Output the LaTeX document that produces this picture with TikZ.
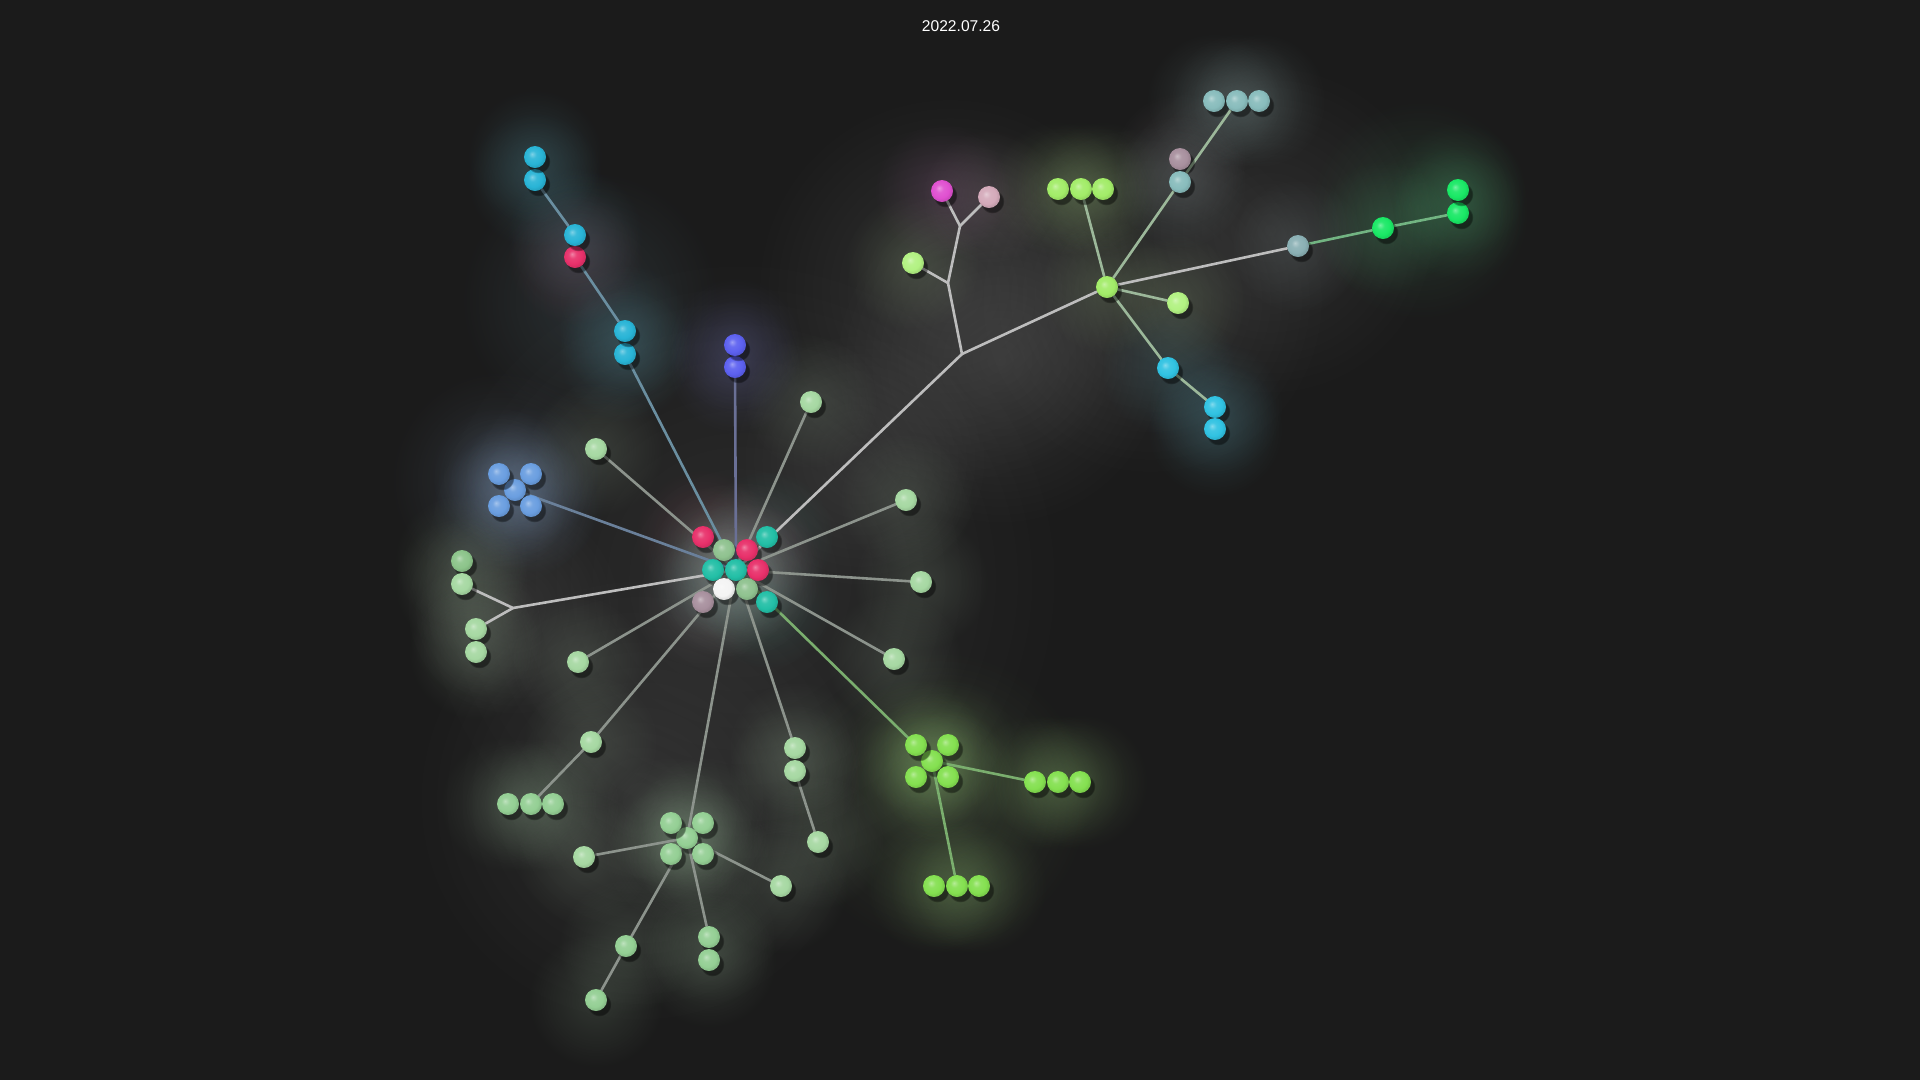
\documentclass[tikz,border=0pt]{standalone}
\usepackage{fontspec}
\setmainfont{Liberation Sans}
\usetikzlibrary{shadows,fadings}
\definecolor{bgc}{HTML}{1B1B1B}
\definecolor{cya}{HTML}{28B4D6}
\definecolor{cyb}{HTML}{30C2E2}
\definecolor{pnk}{HTML}{E8306A}
\definecolor{tea}{HTML}{22BFA6}
\definecolor{lgr}{HTML}{A6D8A2}
\definecolor{mgr}{HTML}{94CF94}
\definecolor{dgr}{HTML}{8CC48A}
\definecolor{cgr}{HTML}{8FC28F}
\definecolor{lim}{HTML}{84E050}
\definecolor{ygr}{HTML}{A2EC68}
\definecolor{ylg}{HTML}{B2F282}
\definecolor{brg}{HTML}{19E865}
\definecolor{bgy}{HTML}{8AB0B4}
\definecolor{tgy}{HTML}{88BCBC}
\definecolor{mau}{HTML}{A8909E}
\definecolor{pmv}{HTML}{D4AABA}
\definecolor{mag}{HTML}{E050D0}
\definecolor{blu}{HTML}{6A9EE0}
\definecolor{pbl}{HTML}{5C60F0}
\definecolor{wht}{HTML}{F4F4F4}
\definecolor{ecen}{HTML}{8C938C}
\definecolor{ebr}{HTML}{BDBDBD}
\definecolor{ecy}{HTML}{6A8EA0}
\definecolor{ebl}{HTML}{6A7096}
\definecolor{ebx}{HTML}{6A809A}
\definecolor{egx}{HTML}{7AAE6E}
\definecolor{egn}{HTML}{9CB89A}
\definecolor{ebg}{HTML}{72B482}
\colorlet{mybc}{white}
\pgfdeclareradialshading[mybc]{softball}{\pgfpoint{-7bp}{7bp}}{color(0bp)=(mybc!60!white); color(9bp)=(mybc!92!white); color(20bp)=(mybc); color(32bp)=(mybc!82!black); color(50bp)=(mybc!65!black)}
\tikzfading[name=glowfade, inner color=transparent!0, outer color=transparent!100]
\pgfdeclarelayer{bg}\pgfdeclarelayer{glow}\pgfdeclarelayer{edges}
\pgfsetlayers{bg,glow,edges,main}
\tikzset{
  sb/.style={circle, inner sep=0pt, minimum size=22pt, shading=softball,
    /utils/exec={\colorlet{mybc}{#1}},
    circular drop shadow={shadow xshift=3pt, shadow yshift=-4pt, opacity=0.45, fill=black}},
  lnk/.style={line width=2.6pt, draw=#1, line cap=round},
  lnk/.default=ecen,
  glw/.style={fill=#1, fill opacity=0.2, path fading=glowfade},
  haze/.style={fill=#1, fill opacity=0.18, path fading=glowfade}
}
\newcommand{\mkball}[4]{%
  \node[sb=#4] (#1) at (#2,#3) {};%
  \begin{pgfonlayer}{glow}\fill[glw=#4!45!gray] (#2,#3) circle (68);\end{pgfonlayer}}
\newcommand{\mkglow}[4]{%
  \begin{pgfonlayer}{glow}\fill[haze=#3] (#1,#2) circle (#4);\end{pgfonlayer}}
\begin{document}
\begin{tikzpicture}[x=1pt,y=-1pt]
\useasboundingbox (0,0) rectangle (1920,1080);
\begin{pgfonlayer}{bg}\fill[bgc] (0,0) rectangle (1920,1080);\end{pgfonlayer}
\node[text=white, font=\fontsize{15.6}{18}\selectfont] (title) at (961,26) {2022.07.26};
% extra haze
\mkglow{740}{580}{gray}{330}
\mkglow{640}{800}{gray}{230}
\mkglow{950}{290}{gray!80!white}{200}
\mkglow{1000}{360}{gray!80!white}{170}
\mkglow{1150}{300}{gray}{180}
\mkglow{1270}{230}{gray}{170}
\mkglow{860}{460}{gray}{130}
\mkglow{513}{608}{gray}{110}
\mkglow{590}{300}{ecy}{130}
\mkglow{500}{480}{blu!40!gray}{110}
\mkglow{940}{800}{lim!40!gray}{150}
\mkglow{1420}{210}{brg!40!gray}{110}
% center cluster
\mkball{c1}{703}{537}{pnk}
\mkball{c2}{724}{550}{cgr}
\mkball{c3}{747}{550}{pnk}
\mkball{c4}{767}{537}{tea}
\mkball{c5}{713}{570}{tea}
\mkball{hub}{736}{570}{tea}
\mkball{c7}{758}{570}{pnk}
\mkball{c8}{724}{589}{wht}
\mkball{c9}{747}{589}{cgr}
\mkball{c10}{703}{602}{mau}
\mkball{c11}{767}{602}{tea}
% cyan chain
\mkball{u1}{625}{354}{cya}
\mkball{u2}{625}{331}{cya}
\mkball{u3}{575}{257}{pnk}
\mkball{u4}{575}{235}{cya}
\mkball{u5}{535}{180}{cya}
\mkball{u6}{535}{157}{cya}
% blue pair
\mkball{v1}{735}{367}{pbl}
\mkball{v2}{735}{345}{pbl}
% blue X
\mkball{xc}{515}{490}{blu}
\mkball{x1}{499}{474}{blu}
\mkball{x2}{531}{474}{blu}
\mkball{x3}{499}{506}{blu}
\mkball{x4}{531}{506}{blu}
% left green
\coordinate (j0) at (513,608);
\mkball{l1}{462}{561}{dgr}
\mkball{l2}{462}{584}{lgr}
\mkball{l3}{476}{629}{lgr}
\mkball{l4}{476}{652}{lgr}
% singles
\mkball{s1}{596}{449}{lgr}
\mkball{s2}{578}{662}{lgr}
\mkball{s3}{591}{742}{lgr}
\mkball{t1}{508}{804}{mgr}
\mkball{t2}{531}{804}{mgr}
\mkball{t3}{553}{804}{mgr}
% bottom X
\mkball{bc}{687}{838}{mgr}
\mkball{b1}{671}{823}{mgr}
\mkball{b2}{703}{823}{mgr}
\mkball{b3}{671}{854}{mgr}
\mkball{b4}{703}{854}{mgr}
\mkball{bl}{584}{857}{lgr}
\mkball{br}{781}{886}{lgr}
\mkball{bd}{626}{946}{mgr}
\mkball{bd2}{596}{1000}{mgr}
\mkball{bp1}{709}{937}{mgr}
\mkball{bp2}{709}{960}{mgr}
\mkball{q1}{795}{748}{lgr}
\mkball{q2}{795}{771}{lgr}
\mkball{q3}{818}{842}{lgr}
% right singles
\mkball{r1}{811}{402}{lgr}
\mkball{r2}{906}{500}{lgr}
\mkball{r3}{921}{582}{lgr}
\mkball{r4}{894}{659}{lgr}
% green X
\mkball{gc}{932}{761}{lim}
\mkball{g1}{916}{745}{lim}
\mkball{g2}{948}{745}{lim}
\mkball{g3}{916}{777}{lim}
\mkball{g4}{948}{777}{lim}
\mkball{gt1}{1035}{782}{lim}
\mkball{gt2}{1058}{782}{lim}
\mkball{gt3}{1080}{782}{lim}
\mkball{gb1}{934}{886}{lim}
\mkball{gb2}{957}{886}{lim}
\mkball{gb3}{979}{886}{lim}
% upper branch
\coordinate (j1) at (962,354);
\coordinate (j2) at (948,283);
\coordinate (j3) at (960,226);
\mkball{m1}{942}{191}{mag}
\mkball{m2}{989}{197}{pmv}
\mkball{m3}{913}{263}{ylg}
\mkball{h}{1107}{287}{ygr}
\mkball{ht1}{1058}{189}{ygr}
\mkball{ht2}{1081}{189}{ygr}
\mkball{ht3}{1103}{189}{ygr}
\mkball{hs}{1178}{303}{ylg}
\mkball{hc}{1168}{368}{cyb}
\mkball{hp1}{1215}{407}{cyb}
\mkball{hp2}{1215}{429}{cyb}
\mkball{k0}{1180}{159}{mau}
\mkball{k1}{1180}{182}{tgy}
\mkball{kt1}{1214}{101}{tgy}
\mkball{kt2}{1237}{101}{tgy}
\mkball{kt3}{1259}{101}{tgy}
\mkball{w1}{1298}{246}{bgy}
\mkball{w2}{1383}{228}{brg}
\mkball{w3}{1458}{213}{brg}
\mkball{w4}{1458}{190}{brg}
\begin{pgfonlayer}{edges}
\draw[lnk=ecy] (hub) -- (u1);
\draw[lnk=ecy] (u2) -- (u3);
\draw[lnk=ecy] (u4) -- (u5);
\draw[lnk=ebl] (hub) -- (v1);
\draw[lnk=ebx] (hub) -- (xc);
\draw[lnk=ebr] (hub) -- (j0);
\draw[lnk=ebr] (j0) -- (l2);
\draw[lnk=ebr] (j0) -- (l3);
\draw[lnk] (hub) -- (s1);
\draw[lnk] (hub) -- (s2);
\draw[lnk] (hub) -- (s3);
\draw[lnk] (s3) -- (t2);
\draw[lnk] (hub) -- (bc);
\draw[lnk] (bc) -- (bl);
\draw[lnk] (bc) -- (br);
\draw[lnk] (bc) -- (bd);
\draw[lnk] (bd) -- (bd2);
\draw[lnk] (bc) -- (bp1);
\draw[lnk] (hub) -- (q1);
\draw[lnk] (q2) -- (q3);
\draw[lnk] (hub) -- (r1);
\draw[lnk] (hub) -- (r2);
\draw[lnk] (hub) -- (r3);
\draw[lnk] (hub) -- (r4);
\draw[lnk=egx] (hub) -- (gc);
\draw[lnk=egx] (gc) -- (gt1);
\draw[lnk=egx] (gc) -- (gb2);
\draw[lnk=ebr] (hub) -- (j1);
\draw[lnk=ebr] (j1) -- (j2);
\draw[lnk=ebr] (j2) -- (j3);
\draw[lnk=ebr] (j3) -- (m1);
\draw[lnk=ebr] (j3) -- (m2);
\draw[lnk=ebr] (j2) -- (m3);
\draw[lnk=ebr] (j1) -- (h);
\draw[lnk=egn] (h) -- (ht2);
\draw[lnk=egn] (h) -- (hs);
\draw[lnk=egn] (h) -- (hc);
\draw[lnk=egn] (hc) -- (hp1);
\draw[lnk=egn] (h) -- (k1);
\draw[lnk=egn] (k1) -- (kt2);
\draw[lnk=ebr] (h) -- (w1);
\draw[lnk=ebg] (w1) -- (w2);
\draw[lnk=ebg] (w2) -- (w3);
\end{pgfonlayer}
\end{tikzpicture}
\end{document}
